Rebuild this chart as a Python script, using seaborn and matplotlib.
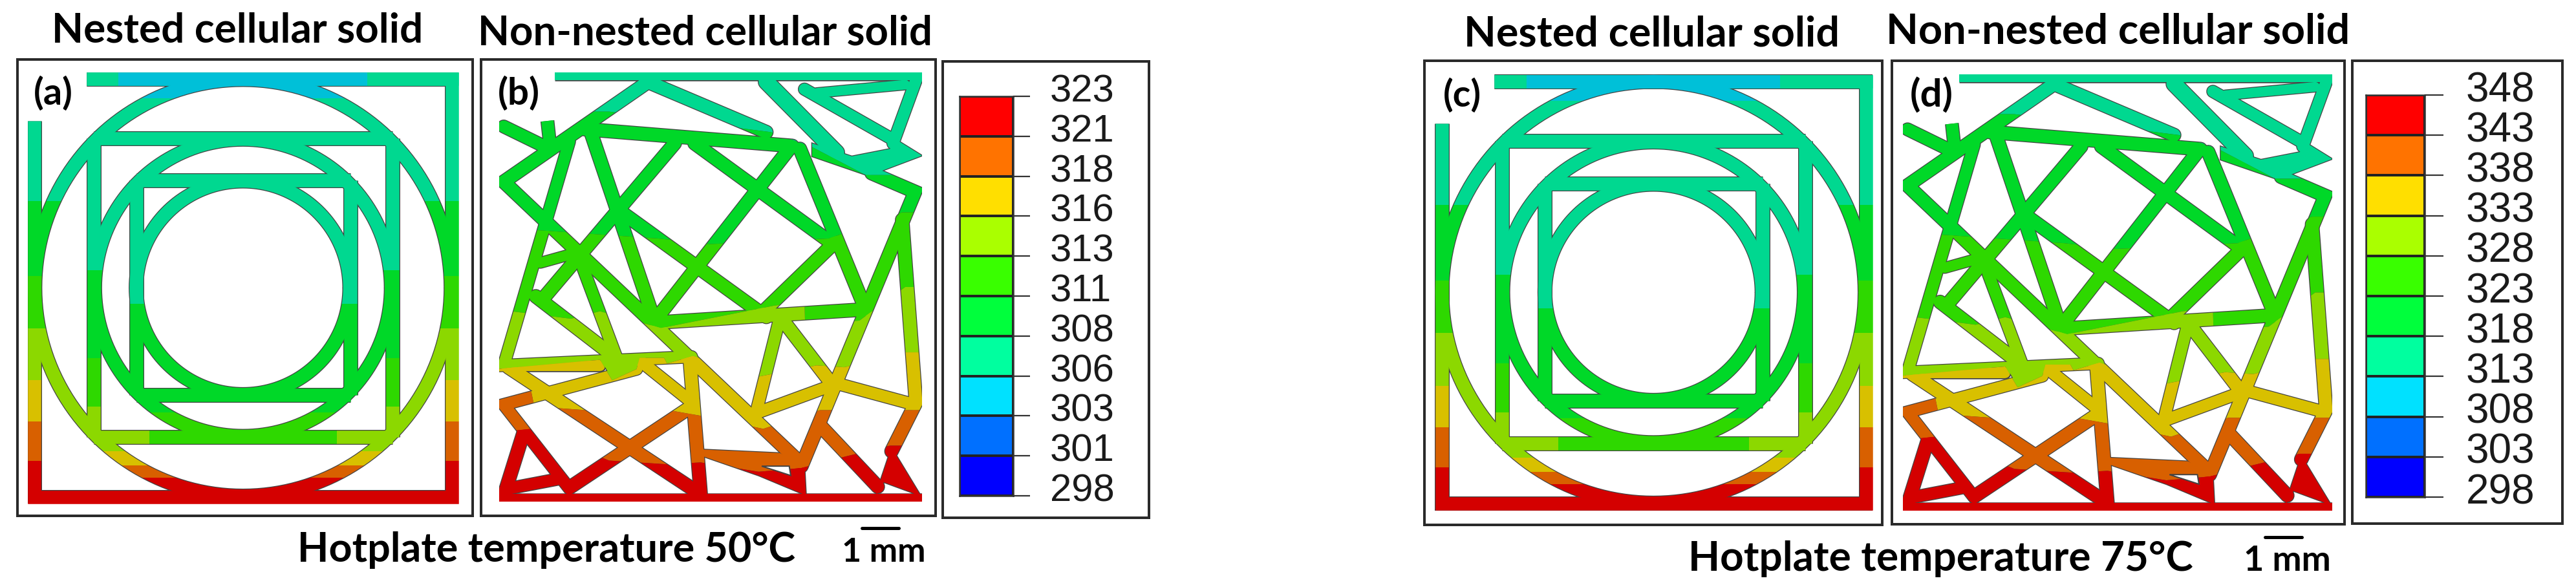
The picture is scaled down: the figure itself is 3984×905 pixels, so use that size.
import numpy as np
import matplotlib
matplotlib.use("Agg")
import matplotlib.pyplot as plt
import seaborn as sns
from matplotlib.colors import ListedColormap
from matplotlib.patches import Polygon, Rectangle
from matplotlib.transforms import ScaledTranslation

W, H = 3984, 905
PX = 0.72  # points per pixel at dpi 100

# colour bands of the contour plot, cold to hot
TEAL, CYAN, GREEN, LIME = "#00d890", "#00c0d8", "#00d828", "#2ed800"
YLGREEN, YELLOW, ORANGE, RED = "#8cd800", "#d8c000", "#d86000", "#d40000"
OUTLINE = "#444444"

BAR_COLORS = ["#ff0000", "#ff7300", "#ffdf00", "#aaff00", "#39ff00",
              "#00ff3c", "#00ff9f", "#00e1ff", "#0070ff", "#0000ff"]
TICKS_50 = [323, 321, 318, 316, 313, 311, 308, 306, 303, 301, 298]
TICKS_75 = [348, 343, 338, 333, 328, 323, 318, 313, 308, 303, 298]

# pixel boxes (x0, y0, x1, y1)
BOX_A = (27, 92, 731, 798)
BOX_B = (744, 92, 1447, 798)
BOX_BAR1 = (1458, 95, 1777, 801)
BOX_C = (2203, 94, 2911, 812)
BOX_D = (2926, 94, 3626, 811)
BOX_BAR2 = (3638, 94, 3963, 810)
LAT_A = (43, 112, 709, 779)
LAT_B = (772, 112, 1426, 776)
LAT_C = (2219, 115, 2896, 790)
LAT_D = (2943, 115, 3607, 790)
SWATCH1 = (1484, 149, 1567, 767)
SWATCH2 = (3659, 147, 3750, 769)

# nested lattice, reference units
NEST_XLIM = (92, 1503)
NEST_YLIM = (1350, 195)
CENTER = (797, 772)
RING_OUT = (682, 558)
RING_MID = (486, 398)
RING_IN = (350, 286)
FRAME = [(284, 213), (1482, 213), (1482, 1332), (114, 1332), (114, 325)]
FRAME_TOP = [(284, 213), (1503, 213)]
SQ1_V = [[(309, 372), (309, 1172)], [(1287, 372), (1287, 1172)]]
SQ1_TOP = [(309, 372), (1287, 372)]
SQ1_BOT = [(309, 1172), (1287, 1172)]
SQ2_V = [[(447, 484), (447, 1059)], [(1149, 484), (1149, 1059)]]
SQ2_H = [[(447, 484), (1149, 484)]]
SQ2_BOT = [[(447, 1059), (1149, 1059)]]

# non-nested lattice: polylines with a width in pixels
NON_XLIM = (110, 1495)
NON_YLIM = (1345, 195)
BARS = [
    ([(110, 1335), (1495, 1335)], 12),
    ([(292, 205), (1495, 205)], 12),
    ([(268, 325), (278, 400)], 19),
]
STRUTS = [
    ([(1478, 210), (1400, 385)], 18),
    ([(1150, 250), (1440, 228)], 15),
    ([(1110, 240), (1400, 375)], 18),
    ([(985, 220), (1215, 410)], 24),
    ([(610, 225), (985, 355)], 20),
    ([(590, 225), (125, 488), (1095, 1240)], 20),
    ([(125, 340), (275, 400)], 19),
    ([(390, 347), (1070, 392)], 20),
    ([(410, 355), (610, 840)], 20),
    ([(340, 380), (125, 980), (740, 957)], 18),
    ([(685, 385), (255, 800)], 20),
    ([(750, 385), (1195, 650)], 20),
    ([(1060, 400), (620, 860)], 20),
    ([(1095, 400), (1310, 830)], 20),
    ([(1210, 650), (970, 840)], 20),
    ([(520, 575), (985, 850)], 20),
    ([(630, 865), (1310, 830)], 20),
    ([(1330, 465), (1472, 515), (1100, 1250)], 20),
    ([(1430, 590), (1475, 1080), (1395, 1210)], 20),
    ([(1030, 850), (955, 1095)], 18),
    ([(1040, 860), (1195, 1025)], 20),
    ([(1200, 1025), (1470, 1085)], 18),
    ([(1195, 1035), (945, 1110)], 18),
    ([(1160, 1140), (1350, 1305)], 20),
    ([(345, 1305), (740, 1090)], 20),
    ([(735, 970), (770, 1325)], 20),
    ([(575, 970), (735, 1075)], 18),
    ([(140, 985), (760, 1320)], 20),
    ([(150, 982), (440, 982)], 16),
    ([(560, 990), (125, 1085), (340, 1310)], 18),
    ([(190, 1160), (125, 1330)], 20),
    ([(140, 1310), (300, 1285)], 18),
    ([(355, 680), (245, 705)], 16),
    ([(230, 795), (500, 965)], 20),
    ([(385, 720), (495, 960)], 18),
]
# solid webs and the small holes cut into them
WEBS = [
    [(1395, 1200), (1340, 1335), (1370, 1293), (1460, 1320), (1495, 1335)],
    [(765, 1205), (1030, 1215), (1110, 1250), (1115, 1328), (960, 1275), (765, 1220)],
    [(1265, 420), (1390, 400), (1410, 375), (1495, 418), (1320, 472), (1135, 420), (1135, 385)],
    [(440, 962), (570, 960), (480, 1015)],
]
HOLES = [[(970, 1250), (1060, 1250), (1065, 1275)]]

# boundaries between colour bands, top to bottom
NON_EDGES = [
    [(100, 300), (470, 300), (1000, 355), (1135, 395), (1310, 470), (1500, 470)],
    [(100, 610), (630, 640), (800, 655), (1190, 640), (1430, 570), (1500, 570)],
    [(100, 830), (345, 855), (440, 835), (640, 880), (1010, 820), (1110, 810),
     (1112, 870), (1290, 860), (1440, 770), (1500, 770)],
    [(100, 990), (440, 965), (480, 1020), (560, 990), (570, 960), (650, 960),
     (660, 975), (745, 955), (960, 1010), (1150, 980), (1240, 985), (1440, 945), (1500, 945)],
    [(100, 1040), (215, 1050), (225, 1090), (395, 1100), (665, 1100), (770, 1115),
     (975, 1150), (1160, 1100), (1500, 1100)],
    [(100, 1160), (215, 1150), (470, 1235), (660, 1245), (770, 1240), (960, 1265),
     (1100, 1255), (1240, 1225), (1390, 1195), (1500, 1195)],
]
NON_COLORS = [TEAL, GREEN, LIME, YLGREEN, YELLOW, ORANGE, RED]

sns.set_style("white")
plt.rcParams["font.family"] = ["Lato", "DejaVu Sans"]

fig = plt.figure(figsize=(W / 100, H / 100), dpi=100)


def add_px_axes(box):
    x0, y0, x1, y1 = box
    return fig.add_axes([x0 / W, 1 - y1 / H, (x1 - x0) / W, (y1 - y0) / H])


bg = fig.add_axes([0, 0, 1, 1])
bg.set_xlim(0, W)
bg.set_ylim(H, 0)
bg.axis("off")


def draw_line(ax, pts, width, color, clip=None, zorder=2, cap="butt"):
    xs, ys = zip(*pts)
    line, = ax.plot(xs, ys, color=color, lw=width * PX, solid_capstyle=cap,
                    solid_joinstyle="miter", zorder=zorder)
    if clip is not None:
        line.set_clip_path(clip)


def ring_points(radii):
    t = np.linspace(0, 2 * np.pi, 361)
    return list(zip(CENTER[0] + radii[0] * np.cos(t), CENTER[1] + radii[1] * np.sin(t)))


def rect_clip(ax, axis, lo, hi):
    if axis == "y":
        return Rectangle((0, lo), 2000, hi - lo, transform=ax.transData)
    return Rectangle((lo, 0), hi - lo, 2000, transform=ax.transData)


def draw_banded(ax, paths, width, axis, edges, colors):
    stops = [0] + edges + [2000]
    for lo, hi, col in zip(stops[:-1], stops[1:], colors):
        clip = rect_clip(ax, axis, lo, hi)
        for pts in paths:
            draw_line(ax, pts, width, col, clip, zorder=3)


def draw_nested(box):
    ax = add_px_axes(box)
    ax.set_xlim(*NEST_XLIM)
    ax.set_ylim(*NEST_YLIM)
    ax.axis("off")
    outer = ring_points(RING_OUT)
    mid = ring_points(RING_MID)
    inner = ring_points(RING_IN)
    everything = [FRAME, FRAME_TOP, outer, mid, inner, SQ1_TOP, SQ1_BOT] + SQ1_V + SQ2_V + SQ2_H + SQ2_BOT
    for pts in everything:
        draw_line(ax, pts, 23, OUTLINE)
    draw_banded(ax, [FRAME], 20.5, "y", [540, 740, 880, 1020, 1130, 1235],
                [TEAL, GREEN, LIME, YLGREEN, YELLOW, ORANGE, RED])
    draw_banded(ax, [FRAME_TOP], 20.5, "x", [388, 1205], [TEAL, CYAN, TEAL])
    draw_banded(ax, [outer], 20.5, "y", [265, 540, 740, 880, 1210, 1247, 1280],
                [CYAN, TEAL, GREEN, LIME, YLGREEN, YELLOW, ORANGE, RED])
    draw_banded(ax, SQ1_V, 20.5, "y", [725, 960, 1090], [TEAL, GREEN, LIME, YLGREEN])
    draw_banded(ax, [SQ1_TOP], 20.5, "x", [], [TEAL])
    draw_banded(ax, [SQ1_BOT], 20.5, "x", [490, 1105], [YLGREEN, LIME, YLGREEN])
    draw_banded(ax, [mid], 20.5, "y", [725, 1105], [TEAL, GREEN, LIME])
    draw_banded(ax, SQ2_V, 20.5, "y", [815], [TEAL, GREEN])
    draw_banded(ax, SQ2_H, 20.5, "x", [], [TEAL])
    draw_banded(ax, SQ2_BOT, 20.5, "x", [], [GREEN])
    draw_banded(ax, [inner], 20.5, "y", [815], [TEAL, GREEN])


def draw_non_nested(box):
    ax = add_px_axes(box)
    ax.set_xlim(*NON_XLIM)
    ax.set_ylim(*NON_YLIM)
    ax.axis("off")
    for pts, width in BARS:
        draw_line(ax, pts, width + 2.5, OUTLINE)
    for pts, width in STRUTS:
        draw_line(ax, pts, width + 2.5, OUTLINE, cap="round")
    for web in WEBS:
        ax.add_patch(Polygon(web, fc=OUTLINE, ec=OUTLINE, lw=2.5 * PX, zorder=2))
    top = [[(100, 100), (1500, 100)]] + NON_EDGES
    bot = NON_EDGES + [[(100, 1500), (1500, 1500)]]
    for upper, lower, col in zip(top, bot, NON_COLORS):
        clip = Polygon(upper + lower[::-1], transform=ax.transData)
        for pts, width in BARS:
            draw_line(ax, pts, width, col, clip, zorder=3)
        for pts, width in STRUTS:
            draw_line(ax, pts, width, col, clip, zorder=3, cap="round")
        for web in WEBS:
            patch = ax.add_patch(Polygon(web, fc=col, ec="none", zorder=3))
            patch.set_clip_path(clip)
    for hole in HOLES:
        ax.add_patch(Polygon(hole, fc="white", ec=OUTLINE, lw=2 * PX, zorder=4))


def draw_colorbar(box, ticks, tick_px, pad_px, size):
    ax = add_px_axes(box)
    values = np.arange(len(BAR_COLORS)).reshape(-1, 1)
    sns.heatmap(values, cmap=ListedColormap(BAR_COLORS), cbar=False, ax=ax,
                linewidths=1.5, linecolor="#222222", xticklabels=False)
    for side in ax.spines.values():
        side.set_visible(True)
        side.set_color("#333333")
        side.set_linewidth(1.8)
    ax.yaxis.tick_right()
    ax.set_yticks(range(len(ticks)))
    ax.set_yticklabels(ticks, rotation=0)
    ax.tick_params(axis="y", length=tick_px * PX, width=1.6, color="#333333", pad=pad_px * PX, right=True)
    shift = ScaledTranslation(0, 0.07, fig.dpi_scale_trans)
    for tick in ax.yaxis.get_major_ticks():
        lab = tick.label2
        lab.set_fontsize(size)
        lab.set_family("Liberation Sans")
        lab.set_color("#1a1a1a")
        lab.set_va("center")
        lab.set_transform(lab.get_transform() + shift)


def fit_text(x0, x1, base, s, size=40, weight="bold", family="Lato"):
    t = bg.text(x0, base, s, ha="left", va="baseline", fontsize=size, fontweight=weight,
                family=family, color="black")
    width = t.get_window_extent(fig.canvas.get_renderer()).width
    t.set_fontsize(size * (x1 - x0) / width)
    return t


for box in [BOX_A, BOX_B, BOX_BAR1, BOX_C, BOX_D, BOX_BAR2]:
    bg.add_patch(Rectangle((box[0], box[1]), box[2] - box[0], box[3] - box[1],
                           fc="white", ec="#2a2a2a", lw=4 * PX))

draw_nested(LAT_A)
draw_non_nested(LAT_B)
draw_nested(LAT_C)
draw_non_nested(LAT_D)
draw_colorbar(SWATCH1, TICKS_50, 26, 31, 43)
draw_colorbar(SWATCH2, TICKS_75, 29, 35, 46)

fit_text(80, 655, 66, "Nested cellular solid")
fit_text(739, 1442, 69, "Non-nested cellular solid")
fit_text(2264, 2845, 72, "Nested cellular solid")
fit_text(2917, 3633, 68, "Non-nested cellular solid")
fit_text(52, 113, 162, "(a)")
fit_text(770, 835, 162, "(b)")
fit_text(2232, 2291, 165, "(c)")
fit_text(2954, 3021, 166, "(d)")
fit_text(460, 1230, 869, "Hotplate temperature 50°C")
fit_text(2611, 3392, 883, "Hotplate temperature 75°C")
fit_text(1302, 1432, 869, "1 mm")
fit_text(3470, 3605, 883, "1 mm")
bg.plot([1333, 1390], [817, 817], color="black", lw=5 * PX)
bg.plot([3503, 3560], [831, 831], color="black", lw=5 * PX)

fig.savefig("out.png", dpi=100, facecolor="white")
